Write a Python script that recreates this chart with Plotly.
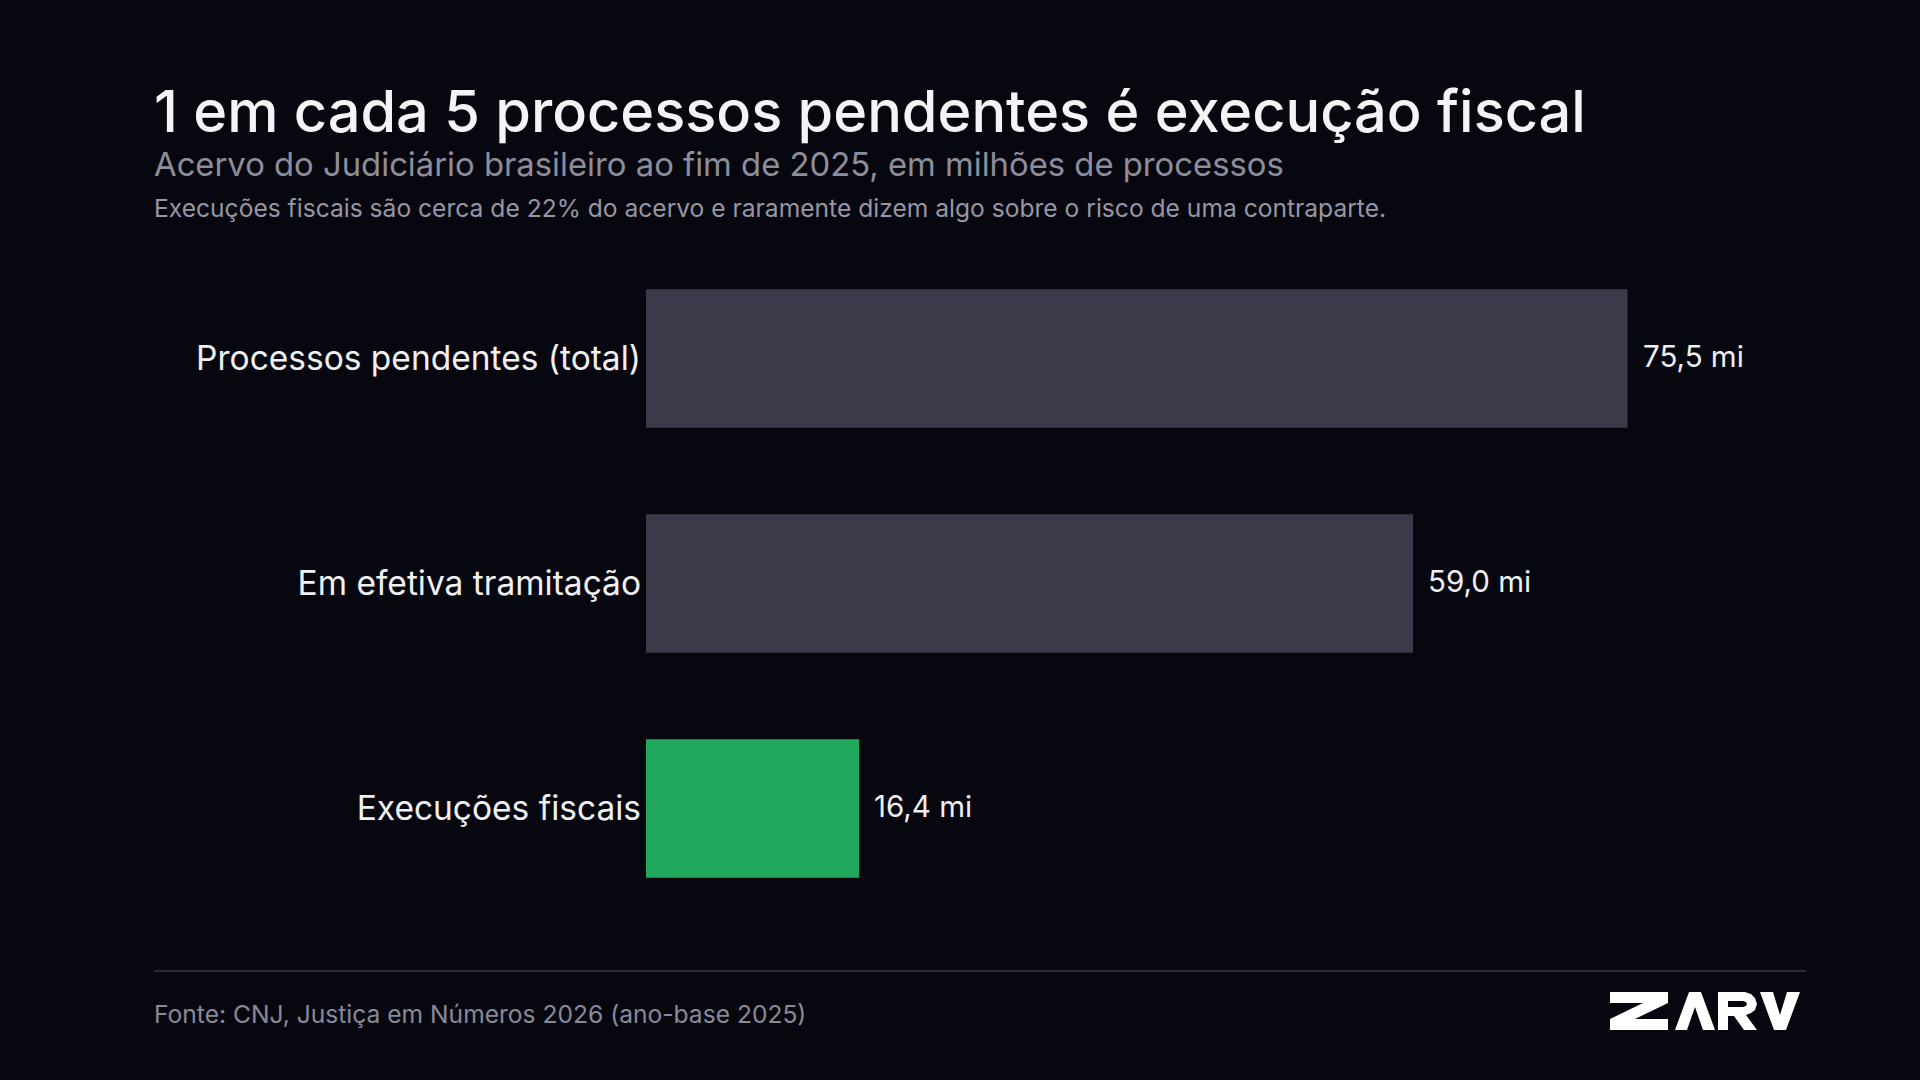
import plotly.graph_objects as go

categories = ["Processos pendentes (total)", "Em efetiva tramitação", "Execuções fiscais"]
values = [75.5, 59.0, 16.4]
bar_colors = ["#3b3a4a", "#3b3a4a", "#22a85c"]

W, H = 1920, 1080
BG = "#07080f"
FONT = "Inter"


def fmt(v):
    return f"{v:.1f}".replace(".", ",") + " mi"


def px_path(points):
    # pixel points -> paper-coordinate path string
    s = "M " + " L ".join(f"{x / W:.5f},{1 - y / H:.5f}" for x, y in points) + " Z"
    return s


fig = go.Figure(go.Bar(
    x=values, y=categories, orientation="h",
    marker=dict(color=bar_colors, line=dict(width=0)),
    width=0.615, hoverinfo="skip",
))

# value labels next to each bar
for c, v in zip(categories, values):
    fig.add_annotation(x=v, y=c, xref="x", yref="y", text=fmt(v), showarrow=False,
                       xanchor="left", yanchor="middle", xshift=13, yshift=3,
                       font=dict(family=FONT, size=29.5, color="#f0f0f4"))

x0, x1 = 646, 1806
px_per_unit = 13.0
fig.update_xaxes(visible=False, range=[0, (x1 - x0) / px_per_unit],
                 domain=[x0 / W, x1 / W], fixedrange=True)
fig.update_yaxes(range=[2.5, -0.5], domain=[1 - 921 / H, 1 - 246 / H],
                 showgrid=False, zeroline=False, showline=False, ticks="",
                 ticklabelstandoff=4, tickfont=dict(family=FONT, size=33.5, color="#f0f0f4"))

texts = [
    ("1 em cada 5 processos pendentes é execução fiscal", 111, 57.7, "#f4f4f6", 500),
    ("Acervo do Judiciário brasileiro ao fim de 2025, em milhões de processos", 164, 32.8, "#8e8d9c", 400),
    ("Execuções fiscais são cerca de 22% do acervo e raramente dizem algo sobre o risco de uma contraparte.", 208, 24.6, "#9796a4", 400),
    ("Fonte: CNJ, Justiça em Números 2026 (ano-base 2025)", 1014, 24.6, "#8a8998", 400),
]
for t, y, size, col, wt in texts:
    fig.add_annotation(x=152 / W, y=1 - y / H, xref="paper", yref="paper", text=t,
                       showarrow=False, xanchor="left", yanchor="middle",
                       font=dict(family=FONT, size=size, color=col, weight=wt))

# footer rule
fig.add_shape(type="line", xref="paper", yref="paper", x0=154 / W, x1=1806 / W,
              y0=1 - 971 / H, y1=1 - 971 / H, line=dict(color="#2a2a35", width=2))

# ZARV logo
logo = [
    [(1610, 992), (1668, 992), (1668, 1003), (1635, 1019), (1668, 1019), (1668, 1030),
     (1610, 1030), (1610, 1019), (1643, 1003), (1610, 1003)],
    [(1675, 1030), (1689, 992), (1701, 992), (1715, 1030), (1703, 1030), (1695, 1007), (1687, 1030)],
    [(1718, 1030), (1718, 992), (1745, 992), (1751, 994), (1755, 998), (1757, 1004), (1755, 1010),
     (1751, 1013), (1746, 1015), (1757, 1030), (1744, 1030), (1734, 1016), (1728, 1016), (1728, 1030)],
    [(1760, 992), (1773, 992), (1780, 1015), (1787, 992), (1800, 992), (1786, 1030), (1774, 1030)],
]
for pts in logo:
    fig.add_shape(type="path", xref="paper", yref="paper", path=px_path(pts),
                  fillcolor="#ffffff", line=dict(width=0))
# counter of the R
fig.add_shape(type="path", xref="paper", yref="paper",
              path=px_path([(1728, 1001), (1743, 1001), (1746, 1002), (1747, 1004), (1746, 1006),
                            (1743, 1007), (1728, 1007)]),
              fillcolor=BG, line=dict(width=0))

fig.update_layout(
    width=W, height=H, margin=dict(l=0, r=0, t=0, b=0),
    paper_bgcolor=BG, plot_bgcolor=BG, showlegend=False, bargap=0.385,
    font=dict(family=FONT),
)

fig.write_html("out.html", config={"displayModeBar": False},
               post_script="document.body.style.margin='0';document.body.style.background='" + BG + "';")
